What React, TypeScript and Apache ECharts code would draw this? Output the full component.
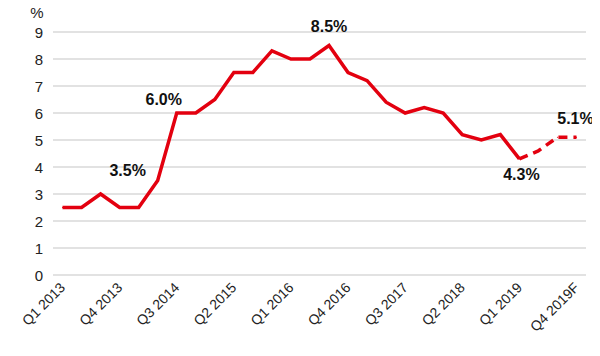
import React, { useEffect, useRef } from "react";
import * as echarts from "echarts";

const categories = [
  "Q1 2013", "Q2 2013", "Q3 2013", "Q4 2013",
  "Q1 2014", "Q2 2014", "Q3 2014", "Q4 2014",
  "Q1 2015", "Q2 2015", "Q3 2015", "Q4 2015",
  "Q1 2016", "Q2 2016", "Q3 2016", "Q4 2016",
  "Q1 2017", "Q2 2017", "Q3 2017", "Q4 2017",
  "Q1 2018", "Q2 2018", "Q3 2018", "Q4 2018",
  "Q1 2019", "Q2 2019F", "Q3 2019F", "Q4 2019F",
];

const actual = [
  2.5, 2.5, 3.0, 2.5, 2.5, 3.5, 6.0, 6.0, 6.5, 7.5, 7.5, 8.3, 8.0, 8.0,
  8.5, 7.5, 7.2, 6.4, 6.0, 6.2, 6.0, 5.2, 5.0, 5.2, 4.3,
];
const forecast = [4.3, 4.6, 5.1, 5.1];
const forecastStart = 24;

const annotations: { idx: number; text: string; pos: string; offset: number[] }[] = [
  { idx: 5, text: "3.5%", pos: "top", offset: [-30, 8] },
  { idx: 6, text: "6.0%", pos: "top", offset: [-13, 5] },
  { idx: 14, text: "8.5%", pos: "top", offset: [0, -1] },
  { idx: 24, text: "4.3%", pos: "bottom", offset: [2, -3] },
];
const forecastAnnotation = { idx: 27, text: "5.1%", offset: [-1, 0] };

const yTicks = [0, 1, 2, 3, 4, 5, 6, 7, 8, 9];

const RED = "#e3000f";
const FONT = "Liberation Sans, Arial, sans-serif";

export default function App() {
  const ref = useRef<HTMLDivElement>(null);
  useEffect(() => {
    if (!ref.current) return;
    const chart = echarts.init(ref.current, null, { renderer: "svg" });

    const labelStyle = {
      fontFamily: FONT,
      fontWeight: "bold",
      fontSize: 16,
      color: "#111",
    };

    const actualData = categories.map((_, i) => {
      if (i >= actual.length) return null;
      const a = annotations.find((x) => x.idx === i);
      if (a) {
        return {
          value: actual[i],
          label: {
            show: true,
            formatter: a.text,
            position: a.pos,
            offset: a.offset,
            distance: 10,
            ...labelStyle,
          },
        };
      }
      return actual[i];
    });

    const forecastData = categories.map((_, i) => {
      const k = i - forecastStart;
      if (k < 0 || k >= forecast.length) return null;
      if (i === forecastAnnotation.idx) {
        return {
          value: forecast[k],
          label: {
            show: true,
            formatter: forecastAnnotation.text,
            position: "top",
            offset: forecastAnnotation.offset,
            distance: 10,
            ...labelStyle,
          },
        };
      }
      return forecast[k];
    });

    chart.setOption({
      animation: false,
      grid: { left: 53, right: 14, top: 32, bottom: 81, containLabel: false },
      xAxis: {
        type: "category",
        data: categories,
        boundaryGap: true,
        axisLine: { show: false },
        axisTick: { show: false },
        axisLabel: {
          interval: 2,
          rotate: 45,
          margin: 10,
          fontSize: 14,
          color: "#222",
          fontFamily: FONT,
        },
      },
      yAxis: {
        type: "value",
        min: yTicks[0],
        max: yTicks[yTicks.length - 1],
        interval: 1,
        name: "%",
        nameLocation: "end",
        nameGap: 12,
        nameTextStyle: {
          fontSize: 15,
          color: "#222",
          fontFamily: FONT,
          align: "center",
          padding: [0, 0, 0, -32],
        },
        axisLine: { show: false },
        axisTick: { show: false },
        axisLabel: {
          fontSize: 15,
          color: "#222",
          margin: 14,
          align: "center",
          fontFamily: FONT,
        },
        splitLine: { lineStyle: { color: "#d9d9d9", width: 1.5 } },
      },
      series: [
        {
          type: "line",
          data: actualData,
          symbol: "circle",
          symbolSize: 1,
          showSymbol: true,
          connectNulls: false,
          lineStyle: { color: RED, width: 3.5, join: "miter" },
          itemStyle: { color: RED },
        },
        {
          type: "line",
          data: forecastData,
          symbol: "circle",
          symbolSize: 1,
          showSymbol: true,
          connectNulls: false,
          lineStyle: { color: RED, width: 3.5, type: [9, 6] },
          itemStyle: { color: RED },
        },
      ],
    });
    return () => chart.dispose();
  }, []);
  return <div ref={ref} style={{ width: 600, height: 356, margin: -8 }} />;
}
